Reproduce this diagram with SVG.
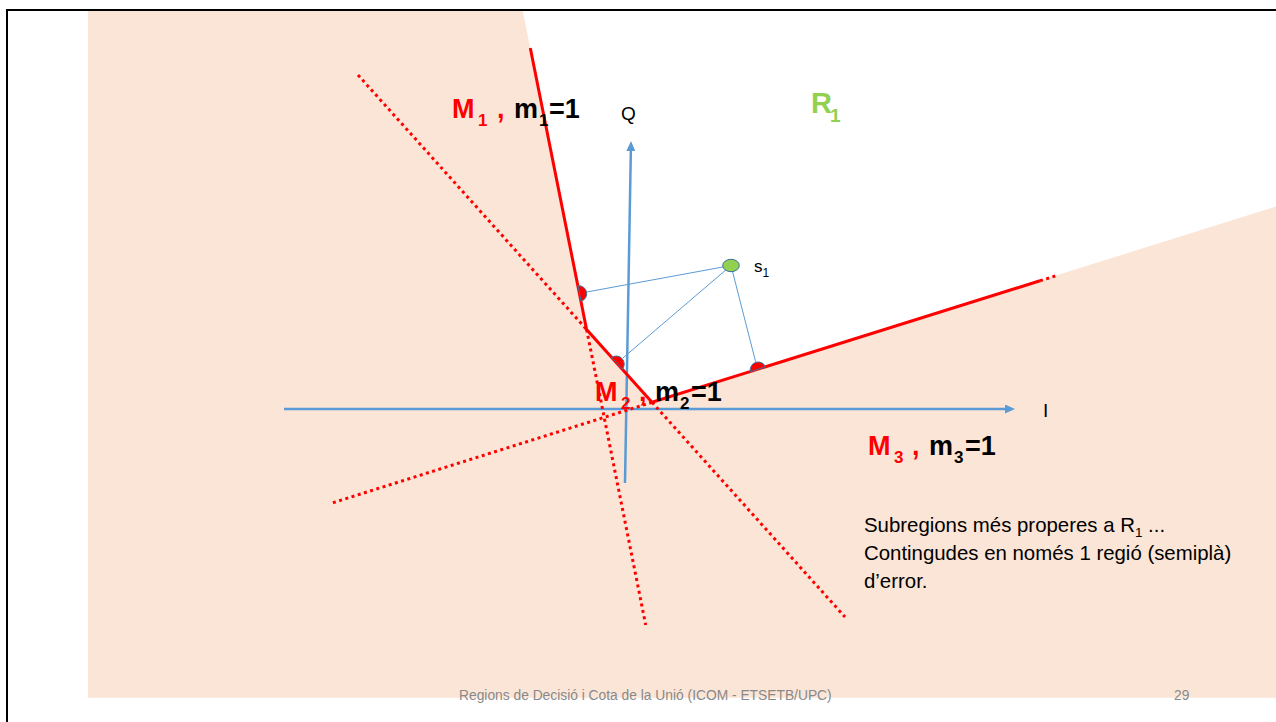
<svg xmlns="http://www.w3.org/2000/svg" width="1276" height="722" viewBox="0 0 1276 722">
<defs>
<style>
.red{stroke:#FF0000;stroke-width:3;fill:none}
.dot{stroke:#FF0000;stroke-width:3;fill:none;stroke-dasharray:3 3.5}
.axis{stroke:#5B9BD5;stroke-width:2.5;fill:none}
.thin{stroke:#5B9BD5;stroke-width:1;fill:none}
.pt{fill:#FF0000;stroke:#41719C;stroke-width:1}
.lbl{font-family:"Liberation Sans",Arial,sans-serif;font-weight:bold;font-size:27px}
.t{font-family:"Liberation Sans",Arial,sans-serif}
.rd{fill:#FF0000}
.sb{font-size:17px}
</style>
<marker id="arr" viewBox="0 0 10 9" refX="4" refY="4.5" markerWidth="10" markerHeight="9" markerUnits="userSpaceOnUse" orient="auto"><path d="M0,0 L10,4.5 L0,9 z" fill="#5B9BD5"/></marker>
</defs>
<rect x="0" y="0" width="1276" height="722" fill="#FFFFFF"/>
<g id="frame">
<line x1="6" y1="10" x2="1276" y2="10" stroke="#000" stroke-width="2"/>
<line x1="7" y1="9" x2="7" y2="722" stroke="#000" stroke-width="2"/>
</g>
<g id="error-region">
<polygon points="88,11 522.8,11 586.6,329.5 652,402.3 1276,206.5 1276,697.7 88,697.7" fill="#FBE5D6"/>
</g>
<g id="axes">
<line class="axis" x1="284" y1="409" x2="1009" y2="409" marker-end="url(#arr)"/>
<line class="axis" x1="625" y1="483" x2="630.9" y2="147" marker-end="url(#arr)"/>
<text class="t" x="621" y="120" font-size="19">Q</text>
<text class="t" x="1043" y="417" font-size="19">I</text>
</g>
<g id="connectors">
<line class="dot" x1="586.6" y1="329.5" x2="645.7" y2="625"/>
<line class="dot" x1="358" y1="75" x2="586.6" y2="329.5"/>
<line class="dot" x1="652" y1="402.3" x2="845" y2="617"/>
<line class="dot" x1="652" y1="402.3" x2="332" y2="503"/>
<line class="dot" x1="1040" y1="280.8" x2="1057" y2="275.5"/>
<polyline class="red" points="530.3,48 586.6,329.5 652,402.3 1040,280.8"/>
<line class="thin" x1="731" y1="265.5" x2="587.3" y2="291.9"/>
<line class="thin" x1="731" y1="265.5" x2="622.9" y2="358.0"/>
<line class="thin" x1="731" y1="265.5" x2="755.6" y2="361.7"/>
</g>
<g id="m1-point"><path class="pt" d="M577.9,285.7 A8,8 0 0 1 581.1,301.3 Z"/></g>
<g id="m2-point"><path class="pt" d="M611.7,357.4 A8,8 0 0 1 622.3,369.2 Z"/></g>
<g id="m3-point"><path class="pt" d="M750.4,371.7 A8,8 0 0 1 765.6,366.9 Z"/></g>
<g id="s1">
<ellipse cx="731" cy="265.5" rx="8.3" ry="6.2" fill="#92D050" stroke="#41719C" stroke-width="1"/>
<text class="t" x="754" y="271.7" font-size="17">s<tspan dy="5" font-size="12">1</tspan></text>
</g>
<g id="label-m1">
<text class="lbl" y="118"><tspan class="rd" x="452">M</tspan><tspan class="rd sb" x="478" dy="8">1</tspan><tspan class="rd" x="497" dy="-8">,</tspan><tspan x="514">m</tspan><tspan class="sb" x="539" dy="8">1</tspan><tspan x="549" dy="-8">=1</tspan></text>
</g>
<g id="label-m2">
<text class="lbl" y="401"><tspan class="rd" x="595">M</tspan><tspan class="rd sb" x="621" dy="8">2</tspan><tspan class="rd" x="639" dy="-8">,</tspan><tspan x="655">m</tspan><tspan class="sb" x="680" dy="8">2</tspan><tspan x="691" dy="-8">=1</tspan></text>
</g>
<g id="label-m3">
<text class="lbl" y="455"><tspan class="rd" x="868">M</tspan><tspan class="rd sb" x="894" dy="8">3</tspan><tspan class="rd" x="912" dy="-8">,</tspan><tspan x="929">m</tspan><tspan class="sb" x="954" dy="8">3</tspan><tspan x="965" dy="-8">=1</tspan></text>
</g>
<g id="label-r1">
<text class="t" x="811" y="113" font-size="29" font-weight="bold" fill="#92D050">R<tspan x="830" dy="9" font-size="19">1</tspan></text>
</g>
<g id="note">
<text class="t" font-size="20.4" fill="#000">
<tspan x="864" y="531.5">Subregions més properes a R<tspan dy="5" font-size="13.5">1</tspan><tspan dy="-5"> ...</tspan></tspan>
<tspan x="864" y="559.5">Contingudes en només 1 regió (semiplà)</tspan>
<tspan x="864" y="587.5">d’error.</tspan>
</text>
</g>
<g id="footer">
<text class="t" x="459" y="700" font-size="13.8" fill="#898989">Regions de Decisió i Cota de la Unió (ICOM - ETSETB/UPC)</text>
<text class="t" x="1174" y="700" font-size="13.8" fill="#898989">29</text>
</g>
</svg>
